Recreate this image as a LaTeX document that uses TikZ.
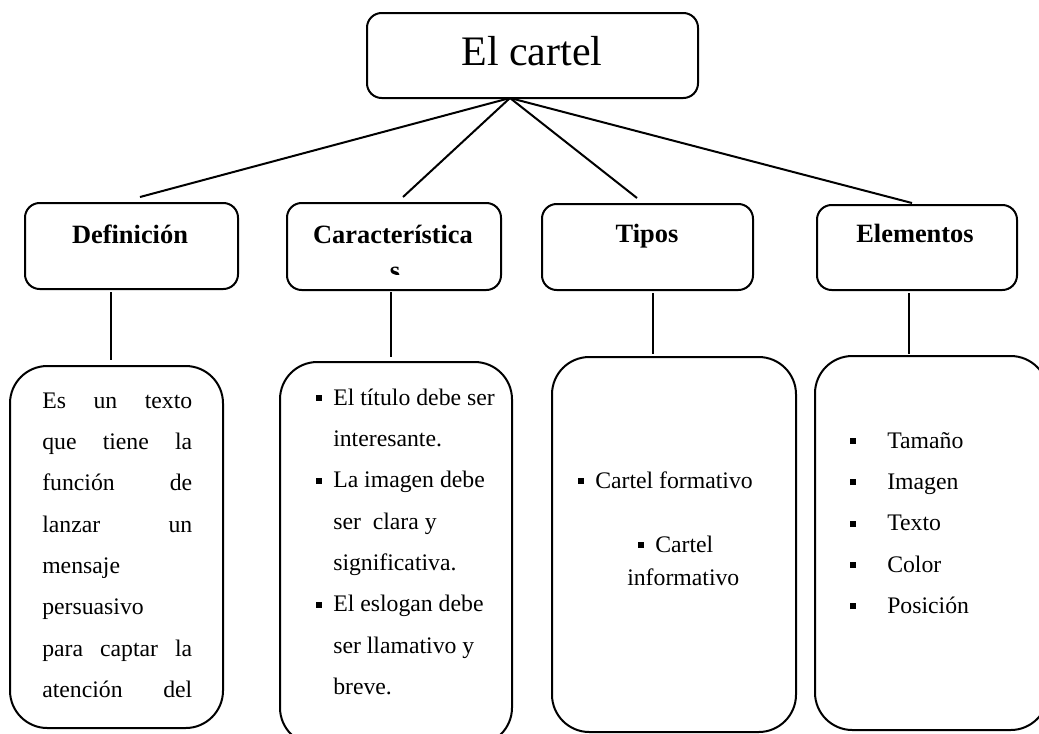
\documentclass[tikz,border=0pt]{standalone}
\usepackage{fontspec}
\setmainfont{Liberation Serif}
\usetikzlibrary{fit}
\newcommand\bul{\rule[0.175em]{0.25em}{0.25em}}
\newcommand\bodyfont{\fontsize{17.8pt}{31pt}\selectfont}
\begin{document}
\begin{tikzpicture}[x=0.75pt,y=-0.75pt,
  box/.style={draw, line width=1.5pt, rounded corners=11pt, inner sep=0pt},
  bigbox/.style={draw, line width=1.5pt, rounded corners=28pt, inner sep=0pt},
  link/.style={line width=1.5pt},
  head/.style={inner sep=0pt, anchor=base, font=\bfseries\fontsize{19.8pt}{24pt}\selectfont},
  body/.style={inner sep=0pt, anchor=base west, font=\bodyfont},
]
\useasboundingbox (0,0) rectangle (1039,733);

% title
\node[box, fit={(367,13) (698,98)}] (title) {};
\node[inner sep=0pt, anchor=base, font=\fontsize{31.5pt}{36pt}\selectfont] (titletext) at (532,65) {El cartel};

% headings
\node[box, fit={(25,203) (238,289)}] (def) {};
\node[box, fit={(287,203) (501,290)}] (car) {};
\node[box, fit={(542,204) (753,290)}] (tip) {};
\node[box, fit={(817,205) (1017,290)}] (ele) {};
\node[head] (deft) at (130,243) {Definición};
\node[head] (cart) at (393,243) {Característica};
\begin{scope}
  \clip (288,204) rectangle (500,274);
  \node[head] (cars) at (395,279) {s};
\end{scope}
\node[head] (tipt) at (647,242) {Tipos};
\node[head] (elet) at (915,242) {Elementos};

% connectors from title
\coordinate (hub) at (510,98);
\coordinate (e1) at (140,197);
\coordinate (e2) at (403,197);
\coordinate (e3) at (637,198);
\coordinate (e4) at (912,203);
\draw[link] (hub) -- (e1);
\draw[link] (hub) -- (e2);
\draw[link] (hub) -- (e3);
\draw[link] (hub) -- (e4);

% bottom boxes
\node[bigbox, fit={(10,366) (223,728)}] (defb) {};
\node[bigbox, fit={(280,362) (512,745)}] (carb) {};
\node[bigbox, fit={(552,357) (796,732)}] (tipb) {};
\node[bigbox, fit={(815,356) (1048,730)}] (eleb) {};

% vertical connectors
\coordinate (v1a) at (111,292); \coordinate (v1b) at (111,360);
\coordinate (v2a) at (391,292); \coordinate (v2b) at (391,357);
\coordinate (v3a) at (653,293); \coordinate (v3b) at (653,354);
\coordinate (v4a) at (909,293); \coordinate (v4b) at (909,354);
\draw[link] (v1a) -- (v1b);
\draw[link] (v2a) -- (v2b);
\draw[link] (v3a) -- (v3b);
\draw[link] (v4a) -- (v4b);

% body texts
\node[body] (deftx) at (42,408) {\parbox[t]{112.5pt}{\bodyfont
Es\hfill un\hfill texto\\
que\hfill tiene\hfill la\\
función\hfill de\\
lanzar\hfill un\\
mensaje\\
persuasivo\\
para\hfill captar\hfill la\\
atención\hfill del}};

\node[body] (cartx) at (316,405) {\parbox[t]{160pt}{\bodyfont
\makebox[12.75pt][l]{\bul}El título debe ser\\
\hspace*{12.75pt}interesante.\\
\makebox[12.75pt][l]{\bul}La imagen debe\\
\hspace*{12.75pt}ser\ \ clara y\\
\hspace*{12.75pt}significativa.\\
\makebox[12.75pt][l]{\bul}El eslogan debe\\
\hspace*{12.75pt}ser llamativo y\\
\hspace*{12.75pt}breve.}};

\node[body] (tip1) at (578,488) {\makebox[12.75pt][l]{\bul}Cartel formativo};
\node[body] (tip2) at (638,552) {\makebox[12.75pt][l]{\bul}Cartel};
\node[body] (tip3) at (627,585) {informativo};

\node[body] (eletx) at (850,448) {\parbox[t]{150pt}{\bodyfont
\makebox[27.75pt][l]{\bul}Tamaño\\
\makebox[27.75pt][l]{\bul}Imagen\\
\makebox[27.75pt][l]{\bul}Texto\\
\makebox[27.75pt][l]{\bul}Color\\
\makebox[27.75pt][l]{\bul}Posición}};
\end{tikzpicture}
\end{document}
